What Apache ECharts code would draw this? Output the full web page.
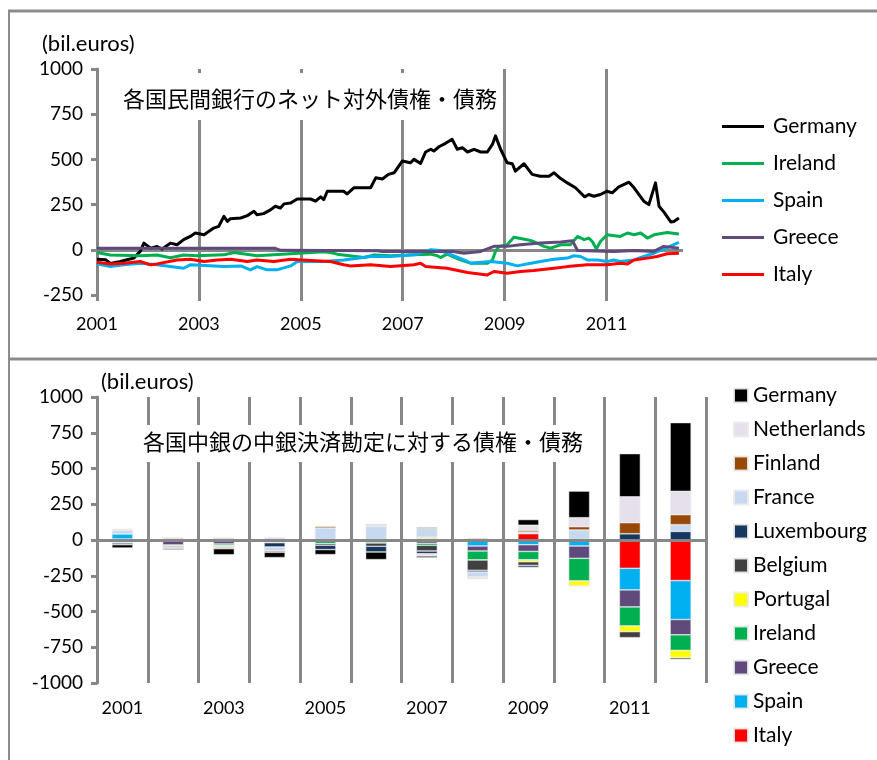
<!DOCTYPE html>
<html>
<head>
<meta charset="utf-8">
<script src="https://cdn.jsdelivr.net/npm/echarts@6/dist/echarts.min.js"></script>
<style>
  html, body { margin: 0; padding: 0; background: #fff; }
  #chart { width: 877px; height: 760px; }
</style>
</head>
<body>
<div id="chart"></div>
<script>
// Top panel: net foreign claims of private banks, [year, bil.euros]
var germanyNet = [[2001.0,-52],[2001.17,-55],[2001.26,-75],[2001.46,-65],[2001.59,-55],[2001.72,-46],[2001.85,-9],[2001.92,37],[2002.05,9],[2002.18,18],[2002.28,4],[2002.44,37],[2002.57,28],[2002.70,56],[2002.83,74],[2002.93,93],[2003.10,83],[2003.29,120],[2003.39,130],[2003.49,185],[2003.56,157],[2003.62,172],[2003.82,176],[2003.95,189],[2004.08,213],[2004.14,194],[2004.27,200],[2004.41,222],[2004.50,241],[2004.60,231],[2004.67,254],[2004.80,259],[2004.93,281],[2005.19,281],[2005.29,269],[2005.39,293],[2005.45,278],[2005.52,324],[2005.84,324],[2005.91,309],[2006.04,343],[2006.37,343],[2006.47,398],[2006.60,392],[2006.72,417],[2006.83,426],[2006.99,491],[2007.15,481],[2007.22,500],[2007.35,478],[2007.45,541],[2007.55,556],[2007.61,546],[2007.71,570],[2007.84,589],[2007.97,611],[2008.07,556],[2008.17,565],[2008.27,541],[2008.40,556],[2008.53,541],[2008.66,541],[2008.76,583],[2008.82,630],[2008.92,556],[2009.05,481],[2009.15,476],[2009.21,435],[2009.38,476],[2009.54,417],[2009.70,407],[2009.87,407],[2009.97,426],[2010.10,394],[2010.23,370],[2010.39,343],[2010.57,293],[2010.65,306],[2010.75,296],[2010.88,306],[2011.01,324],[2011.11,315],[2011.24,348],[2011.44,374],[2011.54,343],[2011.73,269],[2011.83,250],[2011.96,370],[2012.03,241],[2012.13,207],[2012.26,154],[2012.32,157],[2012.42,176]];
var irelandNet = [[2001.0,-15],[2001.26,-29],[2001.85,-33],[2002.18,-29],[2002.44,-44],[2002.70,-29],[2002.96,-33],[2003.49,-28],[2003.69,-15],[2004.14,-33],[2005.45,-11],[2005.58,-15],[2005.71,-24],[2006.24,-43],[2006.44,-29],[2006.76,-33],[2007.22,-28],[2007.55,-24],[2007.68,-33],[2007.74,-43],[2007.87,-24],[2008.13,-56],[2008.33,-74],[2008.66,-74],[2008.76,-56],[2008.82,-9],[2008.89,19],[2009.05,28],[2009.18,69],[2009.44,56],[2009.57,46],[2009.77,19],[2009.90,9],[2010.10,28],[2010.29,28],[2010.43,74],[2010.56,56],[2010.65,65],[2010.72,46],[2010.80,4],[2010.88,46],[2011.01,83],[2011.27,74],[2011.41,93],[2011.54,83],[2011.67,93],[2011.80,65],[2011.93,83],[2012.19,96],[2012.42,87]];
var spainNet = [[2001.0,-78],[2001.26,-93],[2001.53,-83],[2001.85,-74],[2002.18,-83],[2002.70,-102],[2002.83,-83],[2003.49,-93],[2003.82,-89],[2004.01,-111],[2004.14,-93],[2004.34,-111],[2004.53,-111],[2004.80,-89],[2004.93,-65],[2005.45,-65],[2005.84,-56],[2006.37,-37],[2006.76,-37],[2007.22,-28],[2007.55,0],[2007.74,-4],[2007.87,-19],[2008.20,-56],[2008.33,-74],[2008.72,-65],[2009.05,-74],[2009.25,-89],[2009.44,-78],[2009.70,-65],[2009.97,-52],[2010.23,-46],[2010.36,-33],[2010.49,-37],[2010.62,-56],[2010.82,-56],[2011.01,-65],[2011.14,-56],[2011.27,-65],[2011.54,-56],[2011.73,-37],[2011.93,-19],[2012.12,4],[2012.42,41]];
var greeceNet = [[2001.0,8],[2004.50,8],[2004.60,-3],[2006.5,-5],[2006.6,-9],[2007.99,-9],[2008.20,-19],[2008.53,-9],[2008.79,19],[2009.05,19],[2009.31,28],[2009.70,37],[2010.10,43],[2010.33,50],[2010.43,-4],[2011.14,-9],[2011.54,-4],[2011.93,-9],[2012.12,19],[2012.42,9]];
var italyNet = [[2001.0,-69],[2001.26,-78],[2001.53,-74],[2001.85,-65],[2002.05,-83],[2002.18,-78],[2002.57,-56],[2002.83,-52],[2003.10,-65],[2003.36,-56],[2003.62,-52],[2003.95,-65],[2004.14,-56],[2004.47,-65],[2004.80,-52],[2005.19,-59],[2005.58,-65],[2005.84,-83],[2005.97,-89],[2006.37,-83],[2006.76,-93],[2007.22,-83],[2007.35,-74],[2007.45,-93],[2007.87,-102],[2008.27,-126],[2008.66,-139],[2008.79,-120],[2009.05,-130],[2009.31,-120],[2009.57,-115],[2009.97,-102],[2010.23,-93],[2010.62,-83],[2011.01,-83],[2011.27,-74],[2011.41,-78],[2011.54,-56],[2011.80,-46],[2011.99,-37],[2012.19,-22],[2012.42,-19]];
var topYearTicks = [2001, 2003, 2005, 2007, 2009, 2011];

// Bottom panel: central bank TARGET balances, bil.euros per year
var years = ['2001','2002','2003','2004','2005','2006','2007','2008','2009','2010','2011','2012'];
var cbItaly       = [7, 0, 0, 0, 0, 0, 0, -8, 44, -5, -198, -284];
var cbSpain       = [35, 0, 0, 0, 0, 0, 10, -34, -33, -37, -151, -272];
var cbGreece      = [-4, -35, -28, -8, -5, -3, -23, -35, -47, -86, -119, -107];
var cbIreland     = [-14, -5, -12, -6, -20, -18, -14, -63, -58, -158, -133, -109];
var cbPortugal    = [0, 0, 0, 0, 0, 0, 10, 0, -14, -35, -40, -51];
var cbBelgium     = [-3, -8, 0, -5, -12, -23, -40, -72, -26, 0, -42, -12];
var cbLuxembourg  = [-12, -7, -5, -30, -30, -40, -19, -12, -14, 5, 44, 60];
var cbFrance      = [23, 0, -8, -28, 84, 95, 60, -35, 12, 65, 0, 47];
var cbFinland     = [5, -5, -8, -9, 12, 0, 9, 0, 12, 23, 77, 70];
var cbNetherlands = [9, 19, 19, 20, 0, 19, -16, -16, 35, 63, 181, 163];
var cbGermany     = [-23, -8, -42, -37, -35, -53, -12, 10, 40, 186, 302, 481];

var axisGray = '#878787';
var font = 'Lato';

// Line series for the top panel
function lineSeries(name, data, color) {
  return {
    name: name,
    type: 'line',
    xAxisIndex: 0,
    yAxisIndex: 0,
    data: data,
    symbol: 'none',
    lineStyle: { color: color, width: 3, join: 'round' },
    itemStyle: { color: color }
  };
}

// Stacked bar series for the bottom panel
function barSeries(name, data, color) {
  return {
    name: 'cb:' + name,
    type: 'bar',
    xAxisIndex: 1,
    yAxisIndex: 1,
    stack: 'cb',
    barWidth: 21,
    data: data,
    itemStyle: { color: color, borderColor: 'rgba(235,235,235,0.9)', borderWidth: 0.6 }
  };
}

var bars = [
  barSeries('Italy', cbItaly, '#FF0000'),
  barSeries('Spain', cbSpain, '#00B0F0'),
  barSeries('Greece', cbGreece, '#604A7B'),
  barSeries('Ireland', cbIreland, '#00B050'),
  barSeries('Portugal', cbPortugal, '#FFFF00'),
  barSeries('Belgium', cbBelgium, '#404040'),
  barSeries('Luxembourg', cbLuxembourg, '#17375E'),
  barSeries('France', cbFrance, '#C6D9F1'),
  barSeries('Finland', cbFinland, '#984807'),
  barSeries('Netherlands', cbNetherlands, '#E6E0EC'),
  barSeries('Germany', cbGermany, '#000000')
];
// zero line drawn over the bars
bars[0].markLine = {
  silent: true,
  symbol: ['none', 'none'],
  label: { show: false },
  lineStyle: { color: axisGray, width: 3, type: 'solid' },
  data: [{ yAxis: 0 }]
};

function plain(v) { return String(v); }

var chart = echarts.init(document.getElementById('chart'));
chart.setOption({
  animation: false,
  backgroundColor: '#fff',
  textStyle: { fontFamily: font },
  graphic: [
    { type: 'line', shape: { x1: 8, y1: 11, x2: 877, y2: 11 }, style: { stroke: '#8c8c8c', lineWidth: 3 } },
    { type: 'line', shape: { x1: 9, y1: 10, x2: 9, y2: 760 }, style: { stroke: '#8c8c8c', lineWidth: 2 } },
    { type: 'line', shape: { x1: 8, y1: 359, x2: 877, y2: 359 }, style: { stroke: '#8c8c8c', lineWidth: 3 } },
    { type: 'text', left: 42, top: 33, style: { text: '(bil.euros)', font: '22px Lato', fill: '#000' } },
    { type: 'text', left: 101, top: 371, style: { text: '(bil.euros)', font: '22px Lato', fill: '#000' } },
    // white boxes behind the titles hide the grid lines, as in the original
    { type: 'rect', z: 1, shape: { x: 112, y: 73, width: 390, height: 47 }, style: { fill: '#fff' } },
    { type: 'rect', z: 1, shape: { x: 130, y: 425, width: 465, height: 37 }, style: { fill: '#fff' } },
    { type: 'text', z: 2, left: 123, top: 88, style: { text: '各国民間銀行のネット対外債権・債務', font: '22px "Noto Sans CJK JP"', fill: '#000' } },
    { type: 'text', z: 2, left: 143, top: 431, style: { text: '各国中銀の中銀決済勘定に対する債権・債務', font: '22px "Noto Sans CJK JP"', fill: '#000' } }
  ],
  legend: [
    {
      data: ['Germany', 'Ireland', 'Spain', 'Greece', 'Italy'],
      orient: 'vertical',
      left: 722,
      top: 116,
      padding: 0,
      icon: 'rect',
      itemWidth: 42,
      itemHeight: 3,
      itemGap: 16,
      selectedMode: false,
      textStyle: { fontFamily: font, fontSize: 21, color: '#000', lineHeight: 20, padding: [0, 0, 0, 4] }
    },
    {
      data: ['cb:Germany', 'cb:Netherlands', 'cb:Finland', 'cb:France', 'cb:Luxembourg', 'cb:Belgium',
             'cb:Portugal', 'cb:Ireland', 'cb:Greece', 'cb:Spain', 'cb:Italy'],
      orient: 'vertical',
      left: 733,
      top: 385,
      padding: 0,
      icon: 'rect',
      itemWidth: 14,
      itemHeight: 14,
      itemGap: 13,
      selectedMode: false,
      formatter: function (name) { return name.replace('cb:', ''); },
      textStyle: { fontFamily: font, fontSize: 21, color: '#000', lineHeight: 20 }
    }
  ],
  grid: [
    { left: 97, top: 69, width: 586, height: 226 },
    { left: 97, top: 397, width: 609, height: 286 }
  ],
  xAxis: [
    {
      type: 'value',
      gridIndex: 0,
      min: 2001,
      max: 2012.5,
      interval: 2,
      axisLine: { show: false, onZero: false },
      axisTick: { show: true, length: 6, customValues: topYearTicks, lineStyle: { color: axisGray, width: 3 } },
      axisLabel: { customValues: topYearTicks, formatter: plain, margin: 20, fontSize: 18, color: '#000', fontFamily: font },
      splitLine: { show: true, lineStyle: { color: axisGray, width: 3 } }
    },
    {
      type: 'category',
      gridIndex: 1,
      data: years,
      boundaryGap: true,
      axisLine: { show: false, onZero: false },
      axisTick: { show: false },
      axisLabel: { interval: 1, margin: 16, fontSize: 18, color: '#000', fontFamily: font },
      splitLine: { show: true, interval: 0, lineStyle: { color: axisGray, width: 3 } }
    }
  ],
  yAxis: [
    {
      type: 'value',
      gridIndex: 0,
      min: -250,
      max: 1000,
      interval: 250,
      axisLine: { show: true, lineStyle: { color: axisGray, width: 3 } },
      axisTick: { show: true, length: 6, lineStyle: { color: axisGray, width: 3 } },
      axisLabel: { formatter: plain, margin: 14, fontSize: 19, color: '#000', fontFamily: font },
      // only the zero line is drawn
      splitLine: { show: true, lineStyle: { color: ['transparent', axisGray, 'transparent', 'transparent', 'transparent', 'transparent'], width: 3 } }
    },
    {
      type: 'value',
      gridIndex: 1,
      min: -1000,
      max: 1000,
      interval: 250,
      axisLine: { show: true, lineStyle: { color: axisGray, width: 3 } },
      axisTick: { show: true, length: 6, lineStyle: { color: axisGray, width: 3 } },
      axisLabel: { formatter: plain, margin: 14, fontSize: 19, color: '#000', fontFamily: font },
      splitLine: { show: false }
    }
  ],
  series: [
    lineSeries('Germany', germanyNet, '#000000'),
    lineSeries('Ireland', irelandNet, '#00B050'),
    lineSeries('Spain', spainNet, '#00B0F0'),
    lineSeries('Greece', greeceNet, '#604A7B'),
    lineSeries('Italy', italyNet, '#FF0000')
  ].concat(bars)
});
</script>
</body>
</html>
